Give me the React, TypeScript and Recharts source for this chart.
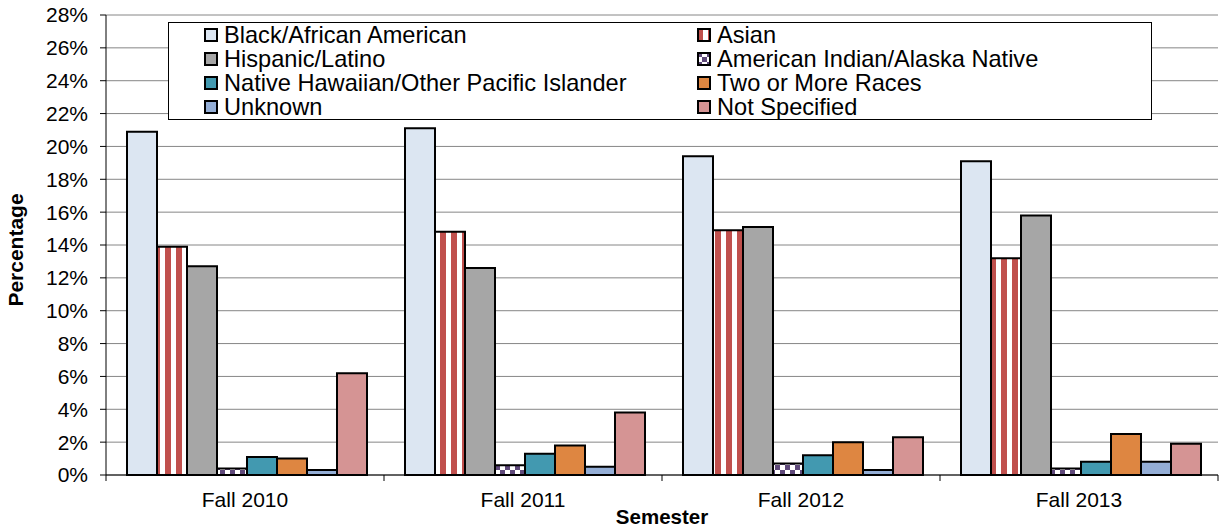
import React from "react"
import { BarChart, Bar, XAxis, YAxis, CartesianGrid, Label } from "recharts"

const semesters = ["Fall 2010", "Fall 2011", "Fall 2012", "Fall 2013"]
const black = [20.9, 21.1, 19.4, 19.1]
const asian = [13.9, 14.8, 14.9, 13.2]
const hispanic = [12.7, 12.6, 15.1, 15.8]
const amInd = [0.4, 0.6, 0.7, 0.4]
const nhpi = [1.1, 1.3, 1.2, 0.8]
const twoOrMore = [1.0, 1.8, 2.0, 2.5]
const unknown = [0.3, 0.5, 0.3, 0.8]
const notSpecified = [6.2, 3.8, 2.3, 1.9]
const yTicks = [0, 2, 4, 6, 8, 10, 12, 14, 16, 18, 20, 22, 24, 26, 28]

const series = [
  { key: "black", name: "Black/African American", values: black, fill: "#DCE6F2" },
  { key: "asian", name: "Asian", values: asian, fill: "url(#stripes)" },
  { key: "hispanic", name: "Hispanic/Latino", values: hispanic, fill: "#A6A6A6" },
  { key: "amInd", name: "American Indian/Alaska Native", values: amInd, fill: "url(#checker)" },
  { key: "nhpi", name: "Native Hawaiian/Other Pacific Islander", values: nhpi, fill: "#4299B0" },
  { key: "two", name: "Two or More Races", values: twoOrMore, fill: "#DE8641" },
  { key: "unknown", name: "Unknown", values: unknown, fill: "#94AED6" },
  { key: "ns", name: "Not Specified", values: notSpecified, fill: "#D59494" },
]

const data = semesters.map((s, i) => {
  const row: Record<string, string | number> = { semester: s }
  series.forEach((se) => (row[se.key] = se.values[i]))
  return row
})

const W = 1219
const H = 529
const PLOT_LEFT = 106
const PLOT_RIGHT = 1218
const PLOT_BOTTOM = 475
const FONT = "'Liberation Sans', Arial, sans-serif"

function XTick(props: any) {
  const { x, payload, index } = props
  const bw = (PLOT_RIGHT - PLOT_LEFT) / semesters.length
  const last = index === semesters.length - 1
  return (
    <g>
      <line x1={x - bw / 2} x2={x - bw / 2} y1={PLOT_BOTTOM} y2={PLOT_BOTTOM + 6} stroke="#000" />
      {last && <line x1={x + bw / 2} x2={x + bw / 2} y1={PLOT_BOTTOM} y2={PLOT_BOTTOM + 6} stroke="#000" />}
      <text x={x} y={506.5} textAnchor="middle" fontSize={21} fill="#000" fontFamily={FONT}>
        {payload.value}
      </text>
    </g>
  )
}

function Swatch({ fill }: { fill: string }) {
  return (
    <svg width={14} height={14} style={{ display: "block", marginRight: 6 }}>
      <rect x={1} y={1} width={12} height={12} fill={fill} stroke="#000" strokeWidth={2} />
    </svg>
  )
}

function LegendBox() {
  return (
    <div
      style={{
        position: "absolute",
        left: 168,
        top: 22,
        width: 984,
        height: 98,
        boxSizing: "border-box",
        border: "1px solid #000",
        background: "#fff",
        fontFamily: FONT,
        fontSize: 23.6,
      }}
    >
      {series.map((se, i) => {
        const col = i % 2
        const row = Math.floor(i / 2)
        return (
          <div
            key={se.key}
            style={{
              position: "absolute",
              left: col ? 528 : 35,
              top: row * 24,
              height: 24,
              display: "flex",
              alignItems: "center",
              whiteSpace: "nowrap",
              lineHeight: "24px",
            }}
          >
            <Swatch fill={se.fill} />
            <span>{se.name}</span>
          </div>
        )
      })}
    </div>
  )
}

export default function App() {
  return (
    <div style={{ position: "absolute", left: 0, top: 0, width: W, height: H, fontFamily: FONT, background: "#fff" }}>
      <BarChart
        width={W}
        height={H}
        data={data}
        margin={{ top: 15, right: W - PLOT_RIGHT, bottom: 0, left: 46 }}
        barCategoryGap={21}
        barGap={0}
      >
        <defs>
          <pattern id="stripes" width={11} height={11} patternUnits="userSpaceOnUse">
            <rect width={11} height={11} fill="#fff" />
            <rect width={6} height={11} fill="#C0504D" />
          </pattern>
          <pattern id="checker" width={10} height={10} patternUnits="userSpaceOnUse">
            <rect width={10} height={10} fill="#fff" />
            <rect width={5} height={5} fill="#5F497A" />
            <rect x={5} y={5} width={5} height={5} fill="#5F497A" />
          </pattern>
        </defs>
        <CartesianGrid vertical={false} stroke="#868686" strokeWidth={1} />
        <XAxis
          dataKey="semester"
          height={54}
          axisLine={{ stroke: "#000" }}
          tickLine={false}
          tick={<XTick />}
          interval={0}
        >
          <Label
            content={() => (
              <text x={(PLOT_LEFT + PLOT_RIGHT) / 2} y={524} textAnchor="middle" fontSize={20.5} fontWeight="bold" fill="#000" fontFamily={FONT}>
                Semester
              </text>
            )}
          />
        </XAxis>
        <YAxis
          width={60}
          domain={[0, 28]}
          ticks={yTicks}
          interval={0}
          tickFormatter={(v: number) => `${v}%`}
          axisLine={{ stroke: "#000" }}
          tickLine={{ stroke: "#000" }}
          tickSize={6}
          tickMargin={12}
          tick={{ fill: "#000", fontSize: 21, fontFamily: FONT }}
        >
          <Label
            content={() => (
              <text
                x={23}
                y={250}
                transform="rotate(-90, 23, 250)"
                textAnchor="middle"
                fontSize={21}
                fontWeight="bold"
                fill="#000"
                fontFamily={FONT}
              >
                Percentage
              </text>
            )}
          />
        </YAxis>
        {series.map((se) => (
          <Bar
            key={se.key}
            dataKey={se.key}
            name={se.name}
            fill={se.fill}
            stroke="#000"
            strokeWidth={2}
            isAnimationActive={false}
          />
        ))}
      </BarChart>
      <LegendBox />
    </div>
  )
}
